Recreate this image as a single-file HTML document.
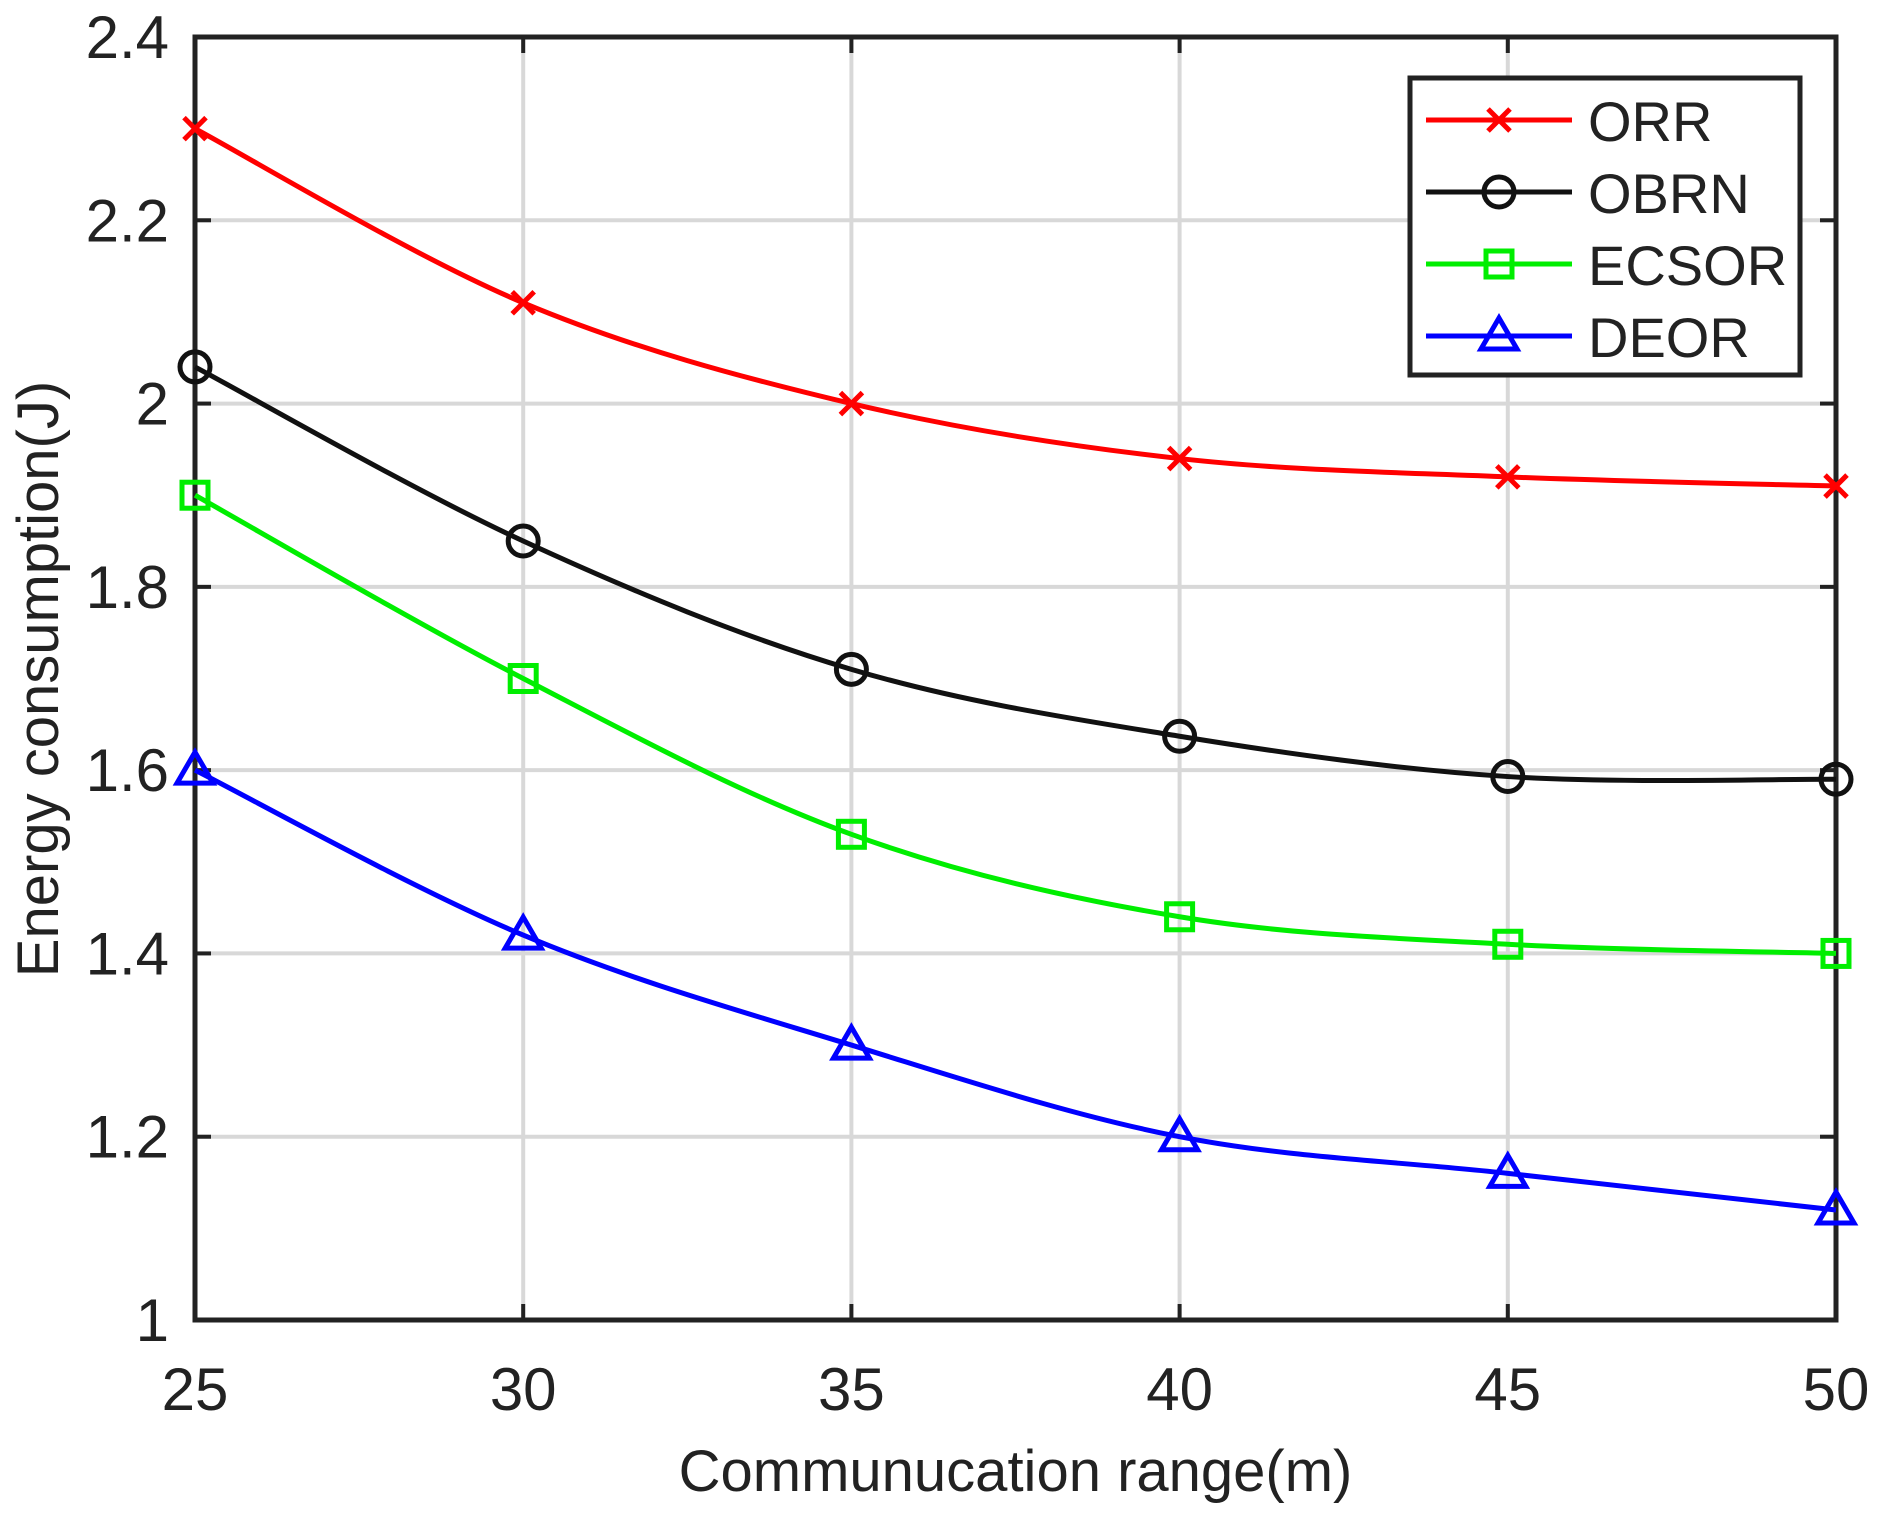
<!DOCTYPE html>
<html><head><meta charset="utf-8"><style>
body{margin:0;background:#fff;}
svg text{font-family:"Liberation Sans",sans-serif;fill:#222;}
</style></head><body>
<svg id="chart" width="1879" height="1516" xmlns="http://www.w3.org/2000/svg"></svg>
<script>
const xValues=[25,30,35,40,45,50];
const yTicks=[1,1.2,1.4,1.6,1.8,2,2.2,2.4];
const yTickLabels=["1","1.2","1.4","1.6","1.8","2","2.2","2.4"];
const seriesNames=["ORR","OBRN","ECSOR","DEOR"];
const orr=[2.3,2.11,2.0,1.94,1.92,1.91];
const obrn=[2.04,1.85,1.71,1.637,1.593,1.59];
const ecsor=[1.9,1.7,1.53,1.44,1.41,1.40];
const deor=[1.6,1.42,1.30,1.20,1.16,1.12];
const L=195,R=1836,T=37,B=1320;
const sx=v=>L+(v-25)/25*(R-L);
const sy=v=>B-(v-1)/1.4*(B-T);
const svg=document.getElementById('chart');
const NS='http://www.w3.org/2000/svg';
function mk(tag,a,p){const e=document.createElementNS(NS,tag);for(const k in a)e.setAttribute(k,a[k]);(p||svg).appendChild(e);return e;}
xValues.forEach(v=>{const g=mk('line',{x1:sx(v),x2:sx(v),y1:T,y2:B,stroke:'#d8d8d8','stroke-width':4});

});
yTicks.forEach(v=>{const g=mk('line',{x1:L,x2:R,y1:sy(v),y2:sy(v),stroke:'#d8d8d8','stroke-width':4});

});
xValues.forEach(v=>{mk('line',{x1:sx(v),x2:sx(v),y1:B,y2:B-16,stroke:'#222','stroke-width':4});mk('line',{x1:sx(v),x2:sx(v),y1:T,y2:T+16,stroke:'#222','stroke-width':4});
const t=mk('text',{x:sx(v),y:B+90,'font-size':60,'text-anchor':'middle'});t.textContent=v;

});
yTicks.forEach((v,i)=>{mk('line',{x1:L,x2:L+16,y1:sy(v),y2:sy(v),stroke:'#222','stroke-width':4});mk('line',{x1:R,x2:R-16,y1:sy(v),y2:sy(v),stroke:'#222','stroke-width':4});
const t=mk('text',{x:L-26,y:sy(v)+21,'font-size':60,'text-anchor':'end'});t.textContent=yTickLabels[i];

});
const frame=mk('rect',{x:L,y:T,width:R-L,height:B-T,fill:'none',stroke:'#222','stroke-width':5});


const xt=mk('text',{x:(L+R)/2,y:1491,'font-size':58,'text-anchor':'middle'});xt.textContent='Communucation range(m)';


const yt=mk('text',{x:0,y:0,'font-size':58,'text-anchor':'middle',transform:'translate(58,679) rotate(-90)'});yt.textContent='Energy consumption(J)';


const colors=['#ff0000','#111','#00ee00','#0000ff'];
const markers=['x','o','s','t'];
function marker(type,x,y,c,g){
 if(type==='x'){mk('path',{d:`M${x-11},${y-11}L${x+11},${y+11}M${x-11},${y+11}L${x+11},${y-11}`,stroke:c,'stroke-width':5},g);}
 else if(type==='o'){mk('circle',{cx:x,cy:y,r:15,fill:'none',stroke:c,'stroke-width':5},g);}
 else if(type==='s'){mk('rect',{x:x-13,y:y-13,width:26,height:26,fill:'none',stroke:c,'stroke-width':5},g);}
 else {mk('path',{d:`M${x},${y-18}L${x+18},${y+13}L${x-18},${y+13}Z`,fill:'none',stroke:c,'stroke-width':5},g);}
}
function smooth(p){let d=`M${p[0][0]},${p[0][1]}`;
 for(let i=0;i<p.length-1;i++){const p0=p[Math.max(0,i-1)],p1=p[i],p2=p[i+1],p3=p[Math.min(p.length-1,i+2)];
 const c1=[p1[0]+(p2[0]-p0[0])/6,p1[1]+(p2[1]-p0[1])/6],c2=[p2[0]-(p3[0]-p1[0])/6,p2[1]-(p3[1]-p1[1])/6];
 d+=`C${c1[0]},${c1[1]} ${c2[0]},${c2[1]} ${p2[0]},${p2[1]}`;}return d;}
[orr,obrn,ecsor,deor].forEach((s,i)=>{
 const g=mk('g',{});
 
 
 mk('path',{d:smooth(s.map((v,j)=>[sx(xValues[j]),sy(v)])),fill:'none',stroke:colors[i],'stroke-width':5},g);
 s.forEach((v,j)=>marker(markers[i],sx(xValues[j]),sy(v),colors[i],g));
});
const lg=mk('g',{});


mk('rect',{x:1410,y:78,width:390,height:297,fill:'#fff',stroke:'#222','stroke-width':5},lg);
seriesNames.forEach((n,i)=>{
 const y=120+i*72;
 const e=mk('g',{},lg);
 
 
 mk('line',{x1:1426,x2:1572,y1:y,y2:y,stroke:colors[i],'stroke-width':5},e);
 marker(markers[i],1499,y,colors[i],e);
 const t=mk('text',{x:1588,y:y+21,'font-size':56},e);t.textContent=n;
});
</script>
</body></html>
